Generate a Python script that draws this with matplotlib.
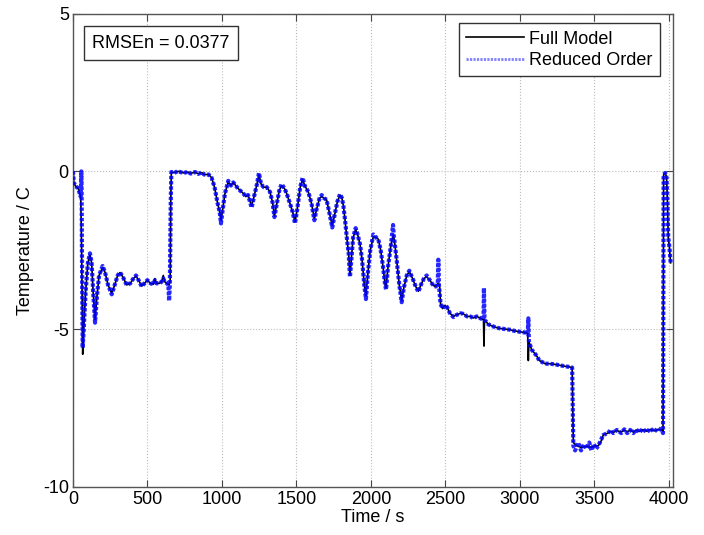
import matplotlib
matplotlib.use("Agg")
import matplotlib.pyplot as plt

plt.rcParams['font.family'] = ['Liberation Sans', 'DejaVu Sans']
plt.rcParams['axes.unicode_minus'] = False

# Full model (t [s], T [C])
time_full = [0, 2, 5, 15, 25, 35, 45, 52, 58, 65, 72, 85, 100, 114, 125, 135, 148, 160, 175,
             199, 215, 235, 260, 280, 300, 315, 335, 360, 385, 405, 423, 440, 461, 480, 499,
             520, 540, 550, 560, 580, 595, 606, 615, 630, 645, 652, 656, 660, 680, 700, 720,
             740, 770, 790, 820, 840, 865, 880, 910, 930, 950, 970, 985, 993, 1005, 1020,
             1042, 1060, 1076, 1100, 1120, 1143, 1160, 1175, 1199, 1215, 1235, 1248, 1262,
             1280, 1300, 1322, 1340, 1352, 1365, 1385, 1400, 1420, 1434, 1455, 1475, 1490,
             1505, 1525, 1541, 1555, 1579, 1600, 1620, 1635, 1655, 1669, 1685, 1702, 1720,
             1740, 1755, 1775, 1792, 1805, 1815, 1826, 1840, 1850, 1859, 1868, 1880, 1897,
             1910, 1926, 1940, 1955, 1966, 1980, 1995, 2016, 2035, 2049, 2065, 2080, 2095,
             2101, 2115, 2135, 2150, 2160, 2172, 2190, 2206, 2220, 2240, 2257, 2270, 2284,
             2300, 2318, 2335, 2355, 2374, 2395, 2418, 2435, 2450, 2460, 2467, 2480, 2495,
             2510, 2530, 2553, 2575, 2600, 2620, 2645, 2665, 2687, 2710, 2743, 2755, 2758,
             2762, 2787, 2810, 2840, 2866, 2900, 2930, 2955, 2990, 3020, 3045, 3052, 3056,
             3060, 3078, 3095, 3112, 3130, 3150, 3168, 3201, 3235, 3268, 3300, 3330, 3350,
             3358, 3380, 3410, 3447, 3480, 3510, 3526, 3545, 3559, 3590, 3610, 3626, 3650,
             3680, 3700, 3720, 3740, 3761, 3780, 3800, 3825, 3850, 3875, 3900, 3925, 3951,
             3960, 3964, 3975, 3984, 3990, 3995, 4003, 4011]
temp_full = [-2.3, 0.0, -0.35, -0.45, -0.5, -0.55, -0.7, -0.8, -2.5, -5.8, -5.0, -3.8, -2.9,
             -2.65, -2.9, -3.8, -4.7, -4.0, -3.3, -3.04, -3.2, -3.6, -3.87, -3.6, -3.3, -3.21,
             -3.35, -3.6, -3.55, -3.4, -3.32, -3.45, -3.64, -3.55, -3.45, -3.55, -3.58, -3.4,
             -3.55, -3.55, -3.5, -3.3, -3.5, -3.55, -3.6, -3.5, -1.0, -0.02, -0.04, 0.0,
             -0.01, -0.05, -0.02, -0.06, -0.03, -0.07, -0.04, -0.1, -0.1, -0.2, -0.5, -1.0,
             -1.3, -1.55, -1.2, -0.7, -0.33, -0.45, -0.35, -0.5, -0.6, -0.7, -0.8, -0.75,
             -1.1, -0.8, -0.4, -0.1, -0.4, -0.5, -0.5, -0.65, -1.0, -1.42, -1.1, -0.6, -0.45,
             -0.55, -0.7, -1.0, -1.3, -1.6, -1.2, -0.5, -0.25, -0.45, -0.65, -1.0, -1.5, -1.2,
             -0.85, -0.8, -0.85, -0.9, -1.3, -1.72, -1.4, -0.95, -0.75, -0.85, -1.1, -1.55,
             -2.2, -2.6, -3.3, -2.8, -2.1, -1.85, -2.0, -2.3, -2.8, -3.6, -3.95, -3.2, -2.5,
             -2.07, -2.1, -2.15, -2.5, -3.0, -3.6, -3.7, -3.0, -2.3, -2.0, -2.3, -2.8, -3.6,
             -4.1, -3.7, -3.3, -3.18, -3.3, -3.45, -3.65, -3.8, -3.6, -3.4, -3.34, -3.45,
             -3.62, -3.65, -3.55, -3.6, -4.2, -4.35, -4.25, -4.3, -4.5, -4.6, -4.55, -4.5,
             -4.52, -4.6, -4.6, -4.65, -4.6, -4.68, -4.7, -5.54, -4.7, -4.85, -4.9, -4.95,
             -4.98, -5.0, -5.02, -5.05, -5.08, -5.1, -5.12, -5.15, -6.0, -5.4, -5.65, -5.75,
             -5.85, -6.0, -6.05, -6.1, -6.1, -6.12, -6.15, -6.18, -6.2, -6.22, -8.6, -8.7,
             -8.75, -8.72, -8.75, -8.7, -8.7, -8.55, -8.36, -8.3, -8.24, -8.28, -8.22, -8.27,
             -8.2, -8.26, -8.21, -8.27, -8.2, -8.25, -8.19, -8.24, -8.18, -8.23, -8.18, -8.2,
             -8.25, -0.1, -0.05, -0.2, -1.0, -2.1, -2.4, -2.9]

# Reduced order model (t [s], T [C])
time_reduced = [0, 5, 15, 25, 35, 45, 52, 54, 56, 58, 60, 65, 72, 85, 100, 114, 125, 135, 148,
                160, 175, 199, 215, 235, 260, 280, 300, 315, 335, 360, 385, 405, 423, 440, 461,
                480, 499, 520, 540, 550, 560, 580, 595, 606, 615, 630, 640, 645, 650, 656, 660,
                680, 700, 720, 740, 770, 790, 820, 840, 865, 880, 910, 930, 950, 970, 985, 993,
                1005, 1020, 1042, 1060, 1076, 1100, 1120, 1143, 1160, 1175, 1199, 1215, 1235,
                1248, 1262, 1280, 1300, 1322, 1340, 1352, 1365, 1385, 1400, 1420, 1434, 1455,
                1475, 1490, 1505, 1525, 1541, 1555, 1579, 1600, 1620, 1635, 1655, 1669, 1685,
                1702, 1720, 1740, 1755, 1775, 1792, 1805, 1815, 1826, 1840, 1850, 1859, 1868,
                1880, 1897, 1910, 1926, 1940, 1955, 1966, 1980, 1995, 2016, 2035, 2049, 2065,
                2080, 2095, 2101, 2115, 2135, 2148, 2152, 2160, 2172, 2190, 2206, 2220, 2240,
                2257, 2270, 2284, 2300, 2318, 2335, 2355, 2374, 2395, 2418, 2435, 2448, 2452,
                2456, 2467, 2480, 2495, 2510, 2530, 2553, 2575, 2600, 2620, 2645, 2665, 2687,
                2710, 2743, 2755, 2758, 2762, 2787, 2810, 2840, 2866, 2900, 2930, 2955, 2990,
                3020, 3045, 3052, 3056, 3060, 3078, 3095, 3112, 3130, 3150, 3168, 3201, 3235,
                3268, 3300, 3330, 3350, 3358, 3370, 3390, 3410, 3430, 3447, 3465, 3480, 3495,
                3510, 3526, 3545, 3559, 3590, 3610, 3626, 3650, 3680, 3700, 3720, 3740, 3761,
                3780, 3800, 3825, 3850, 3875, 3900, 3925, 3951, 3960, 3964, 3975, 3984, 3990,
                3995, 4003, 4011]
temp_reduced = [0.0, -0.35, -0.45, -0.5, -0.55, -0.7, -0.8, -0.4, 0.0, -0.6, -2.5, -5.6, -5.0,
                -3.8, -2.9, -2.6, -2.9, -3.8, -4.8, -4.0, -3.3, -3.0, -3.2, -3.6, -3.9, -3.6,
                -3.3, -3.2, -3.35, -3.6, -3.55, -3.4, -3.3, -3.45, -3.65, -3.55, -3.45, -3.55,
                -3.58, -3.45, -3.55, -3.55, -3.5, -3.4, -3.5, -3.55, -3.6, -4.1, -3.6, -1.0,
                -0.02, -0.05, 0.0, -0.02, -0.06, -0.01, -0.07, -0.02, -0.08, -0.03, -0.1, -0.1,
                -0.2, -0.5, -1.0, -1.3, -1.65, -1.2, -0.7, -0.3, -0.45, -0.35, -0.5, -0.6, -0.7,
                -0.8, -0.75, -1.15, -0.8, -0.4, -0.05, -0.4, -0.5, -0.5, -0.65, -1.0, -1.45,
                -1.1, -0.6, -0.4, -0.55, -0.7, -1.0, -1.3, -1.65, -1.2, -0.5, -0.2, -0.45,
                -0.65, -1.0, -1.55, -1.2, -0.85, -0.75, -0.85, -0.9, -1.3, -1.78, -1.4, -0.95,
                -0.72, -0.85, -1.1, -1.55, -2.2, -2.6, -3.35, -2.8, -2.1, -1.8, -2.0, -2.3,
                -2.8, -3.6, -4.05, -3.2, -2.5, -2.0, -2.1, -2.15, -2.5, -3.0, -3.6, -3.75,
                -3.0, -2.3, -1.7, -2.0, -2.3, -2.8, -3.6, -4.15, -3.7, -3.3, -3.15, -3.3,
                -3.45, -3.65, -3.82, -3.6, -3.4, -3.3, -3.45, -3.62, -3.65, -3.55, -2.8, -3.6,
                -4.2, -4.35, -4.25, -4.3, -4.5, -4.62, -4.55, -4.5, -4.52, -4.6, -4.6, -4.65,
                -4.6, -4.68, -4.7, -3.7, -4.7, -4.85, -4.9, -4.95, -4.98, -5.0, -5.02, -5.05,
                -5.08, -5.1, -5.12, -5.15, -4.66, -5.4, -5.65, -5.75, -5.85, -6.0, -6.05,
                -6.1, -6.1, -6.12, -6.15, -6.18, -6.2, -6.22, -8.7, -8.85, -8.6, -8.85,
                -8.65, -8.8, -8.6, -8.85, -8.65, -8.8, -8.7, -8.5, -8.36, -8.3, -8.2, -8.3,
                -8.2, -8.3, -8.18, -8.3, -8.2, -8.3, -8.18, -8.28, -8.16, -8.28, -8.15, -8.26,
                -8.15, -8.2, -8.3, -0.1, -0.05, -0.2, -1.0, -2.1, -2.4, -2.9]

x_ticks = [0, 500, 1000, 1500, 2000, 2500, 3000, 3500, 4000]
y_ticks = [-10, -5, 0, 5]
rmse_text = "RMSEn = 0.0377"

W, H = 704, 535
fig = plt.figure(figsize=(W / 100, H / 100), dpi=100)
ax = fig.add_axes([73 / W, 1 - 486.7 / H, 600 / W, 473 / H])

ax.plot(time_full, temp_full, color='black', lw=1.2, label='Full Model', zorder=2)
ax.plot(time_reduced, temp_reduced, color='#0000ff', lw=3.0, linestyle=(0, (0.8, 0.45)),
        alpha=0.85, label='Reduced Order', zorder=3)

ax.set_xlim(0, 4027)
ax.set_ylim(-10, 5)
ax.set_xticks(x_ticks)
ax.set_yticks(y_ticks)
ax.tick_params(direction='in', length=5, top=True, right=True, labelsize=13,
               color='#444444', pad=3)
for s in ax.spines.values():
    s.set_color('#555555')
    s.set_linewidth(1.0)
ax.grid(True, linestyle=':', color='#bbbbbb', linewidth=0.8)
ax.set_axisbelow(True)

ax.set_xlabel('Time / s', fontsize=13, labelpad=1)
ax.set_ylabel('Temperature / C', fontsize=13, labelpad=6)

leg = ax.legend(loc='upper right', bbox_to_anchor=(660 / W, 1 - 23.3 / H),
                bbox_transform=fig.transFigure, borderaxespad=0, fontsize=13,
                handlelength=3.2, handletextpad=0.3, labelspacing=0.25,
                fancybox=False, framealpha=1, borderpad=0.4)
leg.get_frame().set_edgecolor('#333333')
leg.get_frame().set_linewidth(1.0)
leg.get_lines()[1].set_linewidth(2.0)
leg.get_lines()[1].set_alpha(0.5)

ax.text(92 / W, 1 - 43 / H, rmse_text, transform=fig.transFigure, fontsize=13,
        va='center', ha='left',
        bbox=dict(boxstyle='square,pad=0.45', facecolor='white', edgecolor='#333333', lw=1.0))

fig.savefig('out.png', dpi=100)
